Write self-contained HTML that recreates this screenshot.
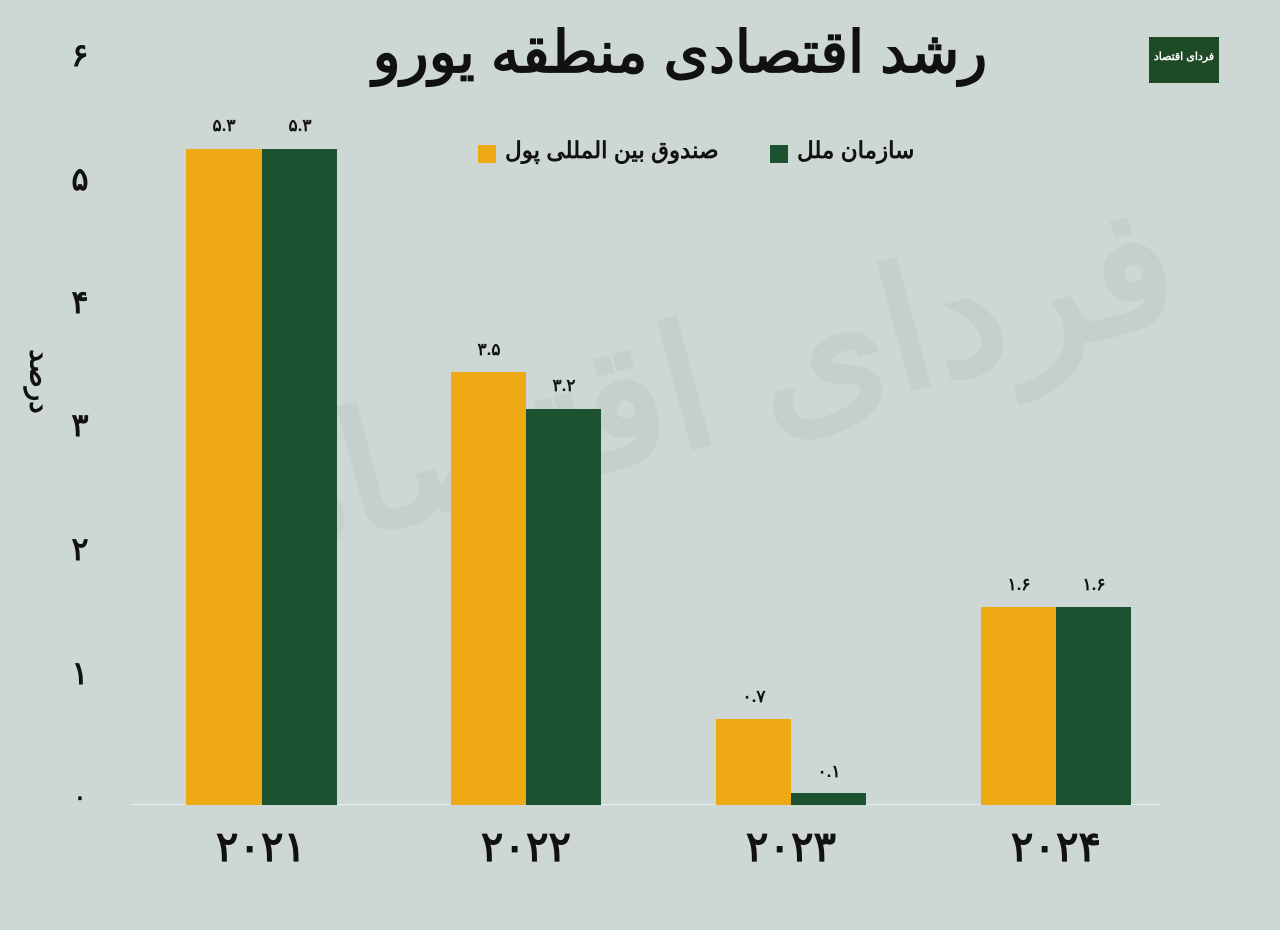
<!DOCTYPE html>
<html><head><meta charset="utf-8"><style>
body{margin:0;width:1280px;height:930px;background:#cdd8d5;position:relative;overflow:hidden;font-family:"Liberation Sans","Noto Sans CJK SC",sans-serif;}
.a{position:absolute;}
.t{font-weight:bold;color:#111;}
.yl{position:absolute;left:60px;width:40px;text-align:center;font-size:32px;font-weight:900;color:#111;}
.bar{position:absolute;}
.o{background:#eea914}.g{background:#1c5230}
.v{position:absolute;width:76px;text-align:center;font-size:17px;font-weight:bold;color:#111;}
.x{position:absolute;width:150px;text-align:center;font-size:42px;font-weight:900;color:#111;top:822px;}
</style></head><body>
<div class="a" style="left:720px;top:380px;transform:translate(-50%,-50%) rotate(-15deg);font-size:170px;font-weight:bold;color:#c4d0cc;white-space:nowrap;direction:rtl">فردای اقتصاد</div>
<div class="a t" style="left:290px;top:18px;width:780px;text-align:center;font-size:58px;direction:rtl">رشد اقتصادی منطقه یورو</div>
<div class="a" style="left:1149px;top:37px;width:70px;height:46px;background:#1e4a25;color:#fff;font-size:11px;font-weight:bold;text-align:center;line-height:40px;white-space:nowrap;direction:rtl;overflow:hidden">فردای اقتصاد</div>
<div class="a" style="left:478px;top:145px;width:18px;height:18px;background:#eea914"></div>
<div class="a t" style="left:505px;top:137px;width:240px;font-size:23px;direction:rtl;text-align:left">صندوق بین المللی پول</div>
<div class="a" style="left:770px;top:145px;width:18px;height:18px;background:#1c5230"></div>
<div class="a t" style="left:797px;top:137px;width:130px;font-size:23px;direction:rtl;text-align:left">سازمان ملل</div>
<div class="a t" style="left:0px;top:365px;font-size:28px;transform:rotate(90deg);transform-origin:center;width:80px;text-align:center">درصد</div>
<div class="yl" style="top:36px">۶</div>
<div class="yl" style="top:160px">۵</div>
<div class="yl" style="top:283px">۴</div>
<div class="yl" style="top:406px">۳</div>
<div class="yl" style="top:530px">۲</div>
<div class="yl" style="top:654px">۱</div>
<div class="yl" style="top:783px;font-size:24px">۰</div>
<div class="a" style="left:130px;top:804px;width:1030px;height:1px;background:#e8eeec"></div>
<div class="bar o" style="left:186px;top:149px;width:76px;height:656px"></div>
<div class="bar g" style="left:262px;top:149px;width:75px;height:656px"></div>
<div class="bar o" style="left:451px;top:372px;width:75px;height:433px"></div>
<div class="bar g" style="left:526px;top:409px;width:75px;height:396px"></div>
<div class="bar o" style="left:716px;top:719px;width:75px;height:86px"></div>
<div class="bar g" style="left:791px;top:793px;width:75px;height:12px"></div>
<div class="bar o" style="left:981px;top:607px;width:75px;height:198px"></div>
<div class="bar g" style="left:1056px;top:607px;width:75px;height:198px"></div>
<div class="v" style="left:186px;top:116px">۵.۳</div>
<div class="v" style="left:262px;top:116px">۵.۳</div>
<div class="v" style="left:451px;top:340px">۳.۵</div>
<div class="v" style="left:526px;top:376px">۳.۲</div>
<div class="v" style="left:716px;top:687px">۰.۷</div>
<div class="v" style="left:791px;top:762px">۰.۱</div>
<div class="v" style="left:981px;top:575px">۱.۶</div>
<div class="v" style="left:1056px;top:575px">۱.۶</div>
<div class="x" style="left:186px">۲۰۲۱</div>
<div class="x" style="left:451px">۲۰۲۲</div>
<div class="x" style="left:716px">۲۰۲۳</div>
<div class="x" style="left:981px">۲۰۲۴</div>
</body></html>
